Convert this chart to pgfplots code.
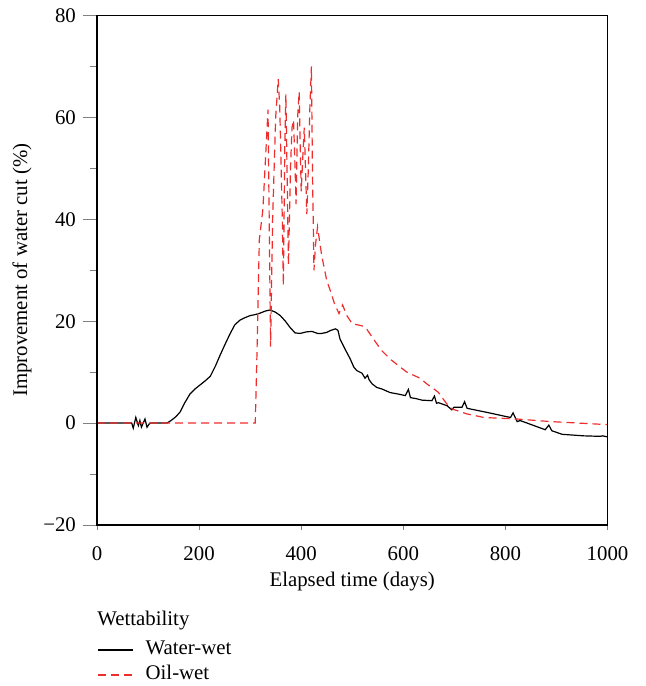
\documentclass[border=0pt]{standalone}
\usepackage{fontspec}
\setmainfont{Liberation Serif}
\usepackage{pgfplots}
\pgfplotsset{compat=1.18}
\definecolor{oilred}{RGB}{238,45,45}
\begin{document}
\begin{tikzpicture}
\begin{axis}[
  scale only axis,
  width=255pt, height=254.5pt,
  xmin=0, xmax=1000, ymin=-20, ymax=80,
  xtick={0,200,...,1000},
  xticklabels={0,200,400,600,800,1000},
  ytick={-20,0,...,80},
  yticklabels={−20,0,20,40,60,80},
  minor y tick num=1,
  tick pos=left,
  tick align=outside,
  major tick length=7pt,
  minor tick length=3.5pt,
  xtick style={/pgfplots/major tick length=2.5pt},
  /pgf/number format/assume math mode=true,
  font=\fontsize{10.4}{12}\selectfont,
  xticklabel style={yshift=-0.5pt},
  xlabel={Elapsed time (days)},
  ylabel={Improvement of water cut (\%)},
  xlabel style={at={(axis description cs:0.5,-0.11)}, anchor=center},
  ylabel style={at={(axis description cs:-0.147,0.5)}, anchor=center},
  axis line style={line width=0.6pt},
  clip=false,
  legend cell align=left,
  legend image code/.code={\draw[#1] (0pt,0pt) -- (17.5pt,0pt);},
  legend style={at={(axis description cs:0,-0.27)}, anchor=west, draw=none, fill=none,
    inner sep=0pt, column sep=6pt, row sep=3pt,
    nodes={inner sep=0pt, text height=7pt, text depth=2.5pt}},
]
\path (axis description cs:-0.190,1.0304) rectangle (axis description cs:1.0745,-0.316);
\addplot[black, line width=0.6pt] coordinates {
(0,0) (68,0) (71,-1.0) (76,1.1) (81,-0.5) (84,0.5) (87,-0.8) (94,0.8) (98,-0.8) (102,-0.2) (105,0)
(137,0) (145,0.5) (155,1.3) (163,2.2) (172,4) (182,5.7) (192,6.7) (202,7.5) (212,8.3) (222,9.2)
(232,11.2) (241,13.3) (251,15.5) (261,17.6) (270,19.3) (280,20.2) (290,20.7) (300,21.1) (310,21.3)
(320,21.6) (330,22.0) (339,22.2) (349,21.8) (359,21.1) (369,20.0) (378,18.8) (388,17.7) (398,17.6)
(410,17.9) (421,18.0) (432,17.6) (440,17.6) (450,17.8) (458,18.2) (467,18.5) (472,18.2) (476,16.5)
(486,14.5) (496,12.6) (503,11) (509,10.3) (519,9.8) (525,8.8) (530,9.4) (533,8.5) (539,7.7)
(548,7.0) (558,6.7) (574,6.0) (590,5.7) (604,5.4) (610,6.6) (614,5.0) (625,4.8) (637,4.5)
(656,4.4) (661,5.3) (665,3.9) (669,4.0) (686,3.4) (695,2.6) (699,3.1) (715,3.1) (720,4.2)
(725,2.9) (764,2.1) (810,1.1) (815,2.0) (823,0.3) (829,0.5) (878,-1.3) (885,-0.4) (891,-1.5)
(911,-2.2) (953,-2.5) (986,-2.6) (990,-2.5) (1000,-2.7)
};
\addlegendentry{Water-wet}
\addplot[oilred, line width=0.6pt, dash pattern=on 4pt off 2.5pt] coordinates {
(0,0) (310,0) (313,12) (318,36) (325,42) (335,61.5) (340,15) (344,40) (350,60) (355,67.5)
(358,62) (363,40) (365,27) (368,55) (370,64.5) (373,45) (375,31) (379,50) (382,58) (385,59.5)
(388,50) (390,43) (393,60) (396,65) (398,55) (400,45.5) (403,52) (406,58) (409,48) (411,41)
(414,50) (417,62) (420,70) (422,50) (425,30) (428,35) (432,38.5) (440,33) (450,28) (457,26)
(465,23.5) (474,21.5) (481,23.2) (490,21) (500,19.5) (519,19.1) (528,18.5) (545,16) (558,14.2)
(575,12.5) (594,11) (607,10) (633,8.8) (646,7.7) (660,6.7) (669,6.0) (673,5.4) (685,3.8)
(695,2.8) (725,1.8) (758,1.1) (823,0.8) (888,0.3) (1000,-0.3)
};
\addlegendentry{Oil-wet}
\draw[line width=0.6pt] (rel axis cs:0,0) rectangle (rel axis cs:1,1);
\node[anchor=west, inner sep=0pt] at (axis description cs:0,-0.187) {Wettability};
\end{axis}
\end{tikzpicture}
\end{document}
